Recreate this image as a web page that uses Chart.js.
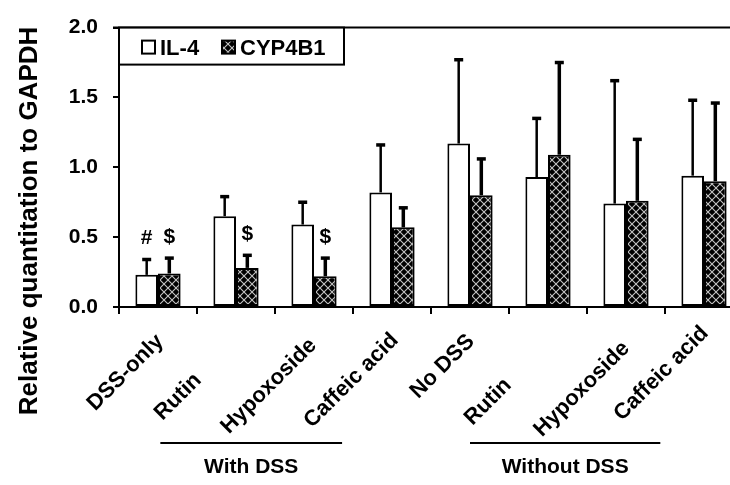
<!DOCTYPE html>
<html><head><meta charset="utf-8">
<script src="https://cdn.jsdelivr.net/npm/chart.js@4/dist/chart.umd.min.js"></script>
<style>
html,body{margin:0;padding:0;background:#fff;overflow:hidden;width:730px;height:485px}
#wrap{position:absolute;left:0;top:0;width:745px;height:485px}
</style>
</head><body><div id="wrap"><canvas id="c" width="745" height="485"></canvas></div>
<script>
// ---- data ----
const categories = ['DSS-only','Rutin','Hypoxoside','Caffeic acid','No DSS','Rutin','Hypoxoside','Caffeic acid'];
const seriesNames = ['IL-4','CYP4B1'];
const il4Values    = [0.23,0.65,0.59,0.82,1.17,0.93,0.74,0.94];
const il4ErrorTops = [0.34,0.79,0.75,1.16,1.77,1.35,1.62,1.48];
const cypValues    = [0.24,0.28,0.22,0.57,0.80,1.09,0.76,0.90];
const cypErrorTops = [0.35,0.37,0.35,0.71,1.06,1.75,1.20,1.46];
const il4Marks = ['#','','','','','','',''];
const cypMarks = ['$','$','$','','','','',''];
const yTicks = [0,0.5,1.0,1.5,2.0];
const yTitle = 'Relative quantitation to GAPDH';
const groupNames = ['With DSS','Without DSS'];

// ---- styles / layout (not data) ----
const FONT = '"Liberation Sans", Arial, sans-serif';
Chart.defaults.font.family = FONT;
Chart.defaults.color = '#000';
const labelDx = [2,-38,-1,3,1,-40,0,1];
const labelDy = [31,70,35,30,31,75,38,23];
const groupRanges = [[0.03,2.36],[4.0,6.44]];

function makeHatch(){
  const s = 8;
  const c = document.createElement('canvas');
  c.width = s; c.height = s;
  const g = c.getContext('2d');
  g.fillStyle = '#000'; g.fillRect(0,0,s,s);
  g.strokeStyle = '#c4c4c4'; g.lineWidth = 1.1;
  g.beginPath();
  g.moveTo(-1,-1); g.lineTo(s+1,s+1);
  g.moveTo(s+1,-1); g.lineTo(-1,s+1);
  g.stroke();
  return g.createPattern(c,'repeat');
}
const hatch = makeHatch();

const overlay = {
  id:'overlay',
  afterDatasetsDraw(chart){
    const ctx = chart.ctx, ys = chart.scales.y;
    const errs = [il4ErrorTops, cypErrorTops];
    const marks = [il4Marks, cypMarks];
    const lw = [2.5, 3.5];
    ctx.save();
    errs.forEach((arr,d)=>{
      const meta = chart.getDatasetMeta(d);
      meta.data.forEach((bar,i)=>{
        const top = ys.getPixelForValue(arr[i]);
        ctx.strokeStyle = '#000';
        ctx.lineWidth = lw[d];
        ctx.beginPath(); ctx.moveTo(bar.x, bar.y); ctx.lineTo(bar.x, top); ctx.stroke();
        ctx.lineWidth = 3.5;
        ctx.beginPath(); ctx.moveTo(bar.x-4.5, top); ctx.lineTo(bar.x+4.5, top); ctx.stroke();
        const m = marks[d][i];
        if (m) {
          ctx.fillStyle = '#000';
          ctx.font = 'bold 21px ' + FONT;
          ctx.textAlign = 'center'; ctx.textBaseline = 'middle';
          ctx.fillText(m, bar.x, top - 21);
        }
      });
    });
    ctx.restore();
  },
  afterDraw(chart){
    const ctx = chart.ctx, ca = chart.chartArea, xs = chart.scales.x;
    ctx.save();
    // top frame line
    ctx.strokeStyle = '#000'; ctx.lineWidth = 2;
    ctx.beginPath(); ctx.moveTo(ca.left-6, ca.top); ctx.lineTo(chart.width, ca.top); ctx.stroke();
    // legend box
    const L = ca.left, T = ca.top;
    ctx.fillStyle = '#fff'; ctx.fillRect(L, T, 225, 37);
    ctx.strokeRect(L, T, 225, 37);
    const ds = chart.data.datasets;
    const items = [[L+23, L+41],[L+103, L+121]];
    ctx.font = 'bold 22px ' + FONT;
    ctx.textAlign = 'left'; ctx.textBaseline = 'middle';
    items.forEach((it,k)=>{
      ctx.fillStyle = ds[k].backgroundColor;
      ctx.fillRect(it[0], T+13, 13, 13);
      ctx.lineWidth = 2; ctx.strokeStyle = '#000';
      ctx.strokeRect(it[0], T+13, 13, 13);
      ctx.fillStyle = '#000';
      ctx.fillText(ds[k].label, it[1], T+21);
    });
    // rotated category labels
    ctx.font = 'bold 22px ' + FONT;
    ctx.textAlign = 'right'; ctx.textBaseline = 'middle';
    categories.forEach((lab,i)=>{
      const x = xs.getPixelForValue(i) + labelDx[i];
      const y = ca.bottom + labelDy[i];
      ctx.save(); ctx.translate(x,y); ctx.rotate(-Math.PI/4);
      ctx.fillText(lab, 0, 0); ctx.restore();
    });
    // group lines and names
    ctx.lineWidth = 2;
    ctx.font = 'bold 21px ' + FONT;
    ctx.textAlign = 'center';
    groupNames.forEach((g,k)=>{
      const x0 = xs.getPixelForValue(groupRanges[k][0]);
      const x1 = xs.getPixelForValue(groupRanges[k][1]);
      ctx.beginPath(); ctx.moveTo(x0, 443); ctx.lineTo(x1, 443); ctx.stroke();
      ctx.fillText(g, (x0+x1)/2, 467);
    });
    // y title
    ctx.font = 'bold 26px ' + FONT;
    ctx.textAlign = 'center'; ctx.textBaseline = 'alphabetic';
    ctx.translate(37, 221); ctx.rotate(-Math.PI/2);
    ctx.fillText(yTitle, 0, 0);
    ctx.restore();
  }
};

new Chart(document.getElementById('c'), {
  type:'bar',
  data:{
    labels: categories,
    datasets:[
      {label: seriesNames[0], data: il4Values, backgroundColor:'#fff', borderColor:'#000', borderWidth:2, borderSkipped:false,
       categoryPercentage:0.58, barPercentage:1.0},
      {label: seriesNames[1], data: cypValues, backgroundColor: hatch, borderColor:'#000', borderWidth:2, borderSkipped:false,
       categoryPercentage:0.58, barPercentage:1.0}
    ]
  },
  options:{
    responsive:false, animation:false,
    layout:{padding:{top:18,right:2,left:0,bottom:0}},
    plugins:{legend:{display:false}, tooltip:{enabled:false}},
    scales:{
      x:{
        offset:true,
        grid:{offset:true, drawOnChartArea:false, drawTicks:true, tickLength:7, color:'#000', lineWidth:2},
        border:{color:'#000', width:2},
        ticks:{display:false},
        afterFit(s){ s.height = 178; }
      },
      y:{
        min:0, max:2,
        afterBuildTicks(s){ s.ticks = yTicks.map(v=>({value:v})); },
        ticks:{callback:v=>Number(v).toFixed(1), font:{size:21, weight:'bold'}, color:'#000', padding:15},
        grid:{drawOnChartArea:false, tickLength:6, color:'#000', lineWidth:2},
        border:{color:'#000', width:2},
        afterFit(s){ s.width = 119; }
      }
    }
  },
  plugins:[overlay]
});
</script>
</body></html>
